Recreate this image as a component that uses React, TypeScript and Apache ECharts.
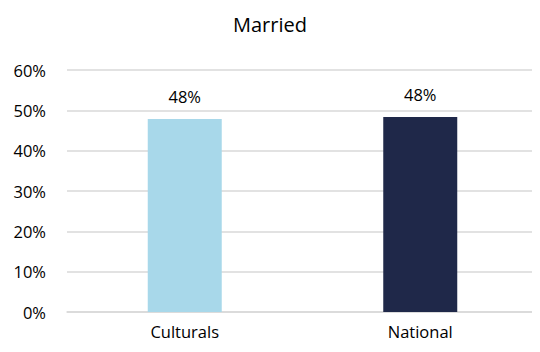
import React, { useEffect, useRef } from "react";
import * as echarts from "echarts";

const categories = ["Culturals", "National"];
const values = [47.85, 48.35];
const colors = ["#a8d8ea", "#1f2849"];
const yTicks = [0, 10, 20, 30, 40, 50, 60];

export default function App() {
  const ref = useRef<HTMLDivElement>(null);
  useEffect(() => {
    const chart = echarts.init(ref.current!, null, { renderer: "svg" });
    const font = "'Open Sans', 'Noto Sans', sans-serif";
    chart.setOption({
      animation: false,
      title: {
        text: "Married",
        left: "center",
        top: 9,
        textStyle: { fontFamily: font, fontSize: 20, fontWeight: "normal", color: "#000" },
      },
      grid: { left: 67, right: 2, top: 70, bottom: 40, containLabel: false },
      xAxis: {
        type: "category",
        data: categories,
        axisLine: { show: true, lineStyle: { color: "#d9d9d9", width: 1.5 } },
        axisTick: { show: false },
        axisLabel: { fontFamily: font, fontSize: 16.5, color: "#000", margin: 11 },
      },
      yAxis: {
        type: "value",
        min: yTicks[0],
        max: yTicks[yTicks.length - 1],
        interval: 10,
        axisLine: { show: false },
        axisTick: { show: false },
        splitLine: { lineStyle: { color: "#d9d9d9", width: 1.5 } },
        axisLabel: { fontFamily: font, fontSize: 16.5, color: "#000", margin: 21, formatter: "{value}%" },
      },
      series: [
        {
          type: "bar",
          barWidth: 74,
          data: values.map((v, i) => ({ value: v, itemStyle: { color: colors[i] } })),
          label: {
            show: true,
            position: "top",
            distance: 14,
            fontFamily: font,
            fontSize: 16.5,
            color: "#000",
            formatter: (p: any) => Math.round(p.value) + "%",
          },
        },
      ],
    });
    return () => chart.dispose();
  }, []);
  return <div ref={ref} style={{ width: 540, height: 352, margin: -8 }} />;
}
